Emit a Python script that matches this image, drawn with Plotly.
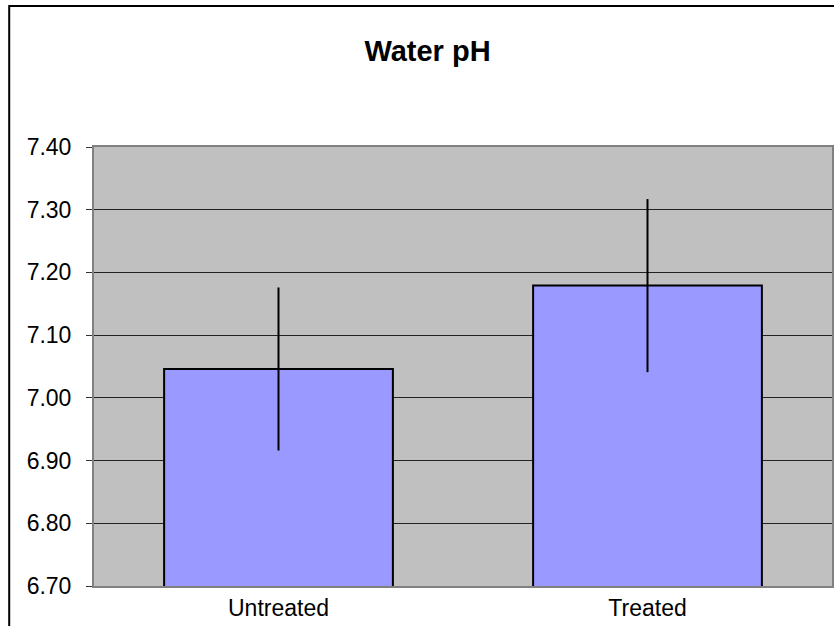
import plotly.graph_objects as go

categories = ["Untreated", "Treated"]
means = [7.046, 7.179]
errors = [0.130, 0.138]
y_ticks = [6.70, 6.80, 6.90, 7.00, 7.10, 7.20, 7.30, 7.40]
y_tick_labels = [f"{v:.2f}" for v in y_ticks]

FONT = "Liberation Sans, Arial, sans-serif"

fig = go.Figure()
fig.add_trace(go.Bar(
    x=categories,
    y=means,
    marker=dict(color="#9999FF", line=dict(color="#000000", width=2)),
    error_y=dict(type="data", array=errors, visible=True, color="#000000",
                 thickness=2, width=0),
    showlegend=False,
))

fig.update_layout(
    width=834, height=626,
    margin=dict(l=94, r=0, t=147, b=40),
    paper_bgcolor="#FFFFFF",
    plot_bgcolor="#C0C0C0",
    bargap=0.38,
    font=dict(family=FONT, size=23, color="#000000"),
    title=dict(text="<b>Water pH</b>", x=0.5126, xanchor="center",
               y=0.919, yanchor="middle",
               font=dict(family=FONT, size=29, color="#000000")),
    xaxis=dict(showgrid=False, ticks="", showline=True, linecolor="#808080",
               linewidth=2, tickfont=dict(size=23), mirror=True),
    yaxis=dict(range=[6.70, 7.40], tickvals=y_ticks, ticktext=y_tick_labels,
               showgrid=True, gridcolor="#222222", gridwidth=1,
               ticks="outside", ticklen=6, tickcolor="#333333",
               showline=True, linecolor="#808080", linewidth=2, mirror=True,
               zeroline=False, tickfont=dict(size=23), ticklabelstandoff=10),
)

# outer chart-area border
fig.add_shape(type="rect", xref="paper", yref="paper",
              x0=-0.1149, x1=1.2, y0=-0.3, y1=1.3214,
              line=dict(color="#000000", width=2), fillcolor="rgba(0,0,0,0)",
              layer="above")

fig.write_html("out.html",
               config={"displayModeBar": False},
               post_script="document.body.style.margin='0';document.body.style.padding='0';")
